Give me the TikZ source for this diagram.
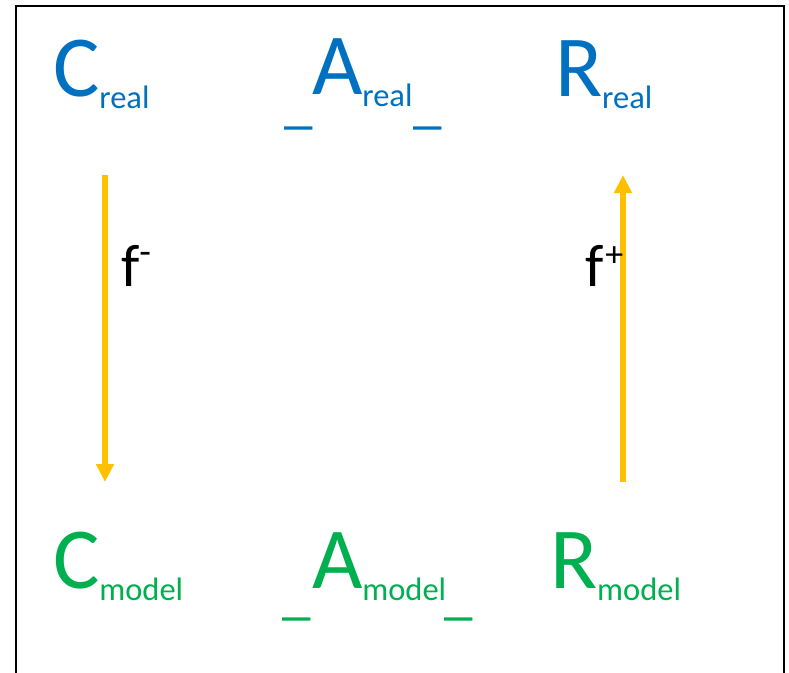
\documentclass[tikz,border=0pt]{standalone}
\usepackage{fontspec}
\setmainfont{Carlito}
\usetikzlibrary{arrows.meta}
\definecolor{realblue}{HTML}{0070C0}
\definecolor{modelgreen}{HTML}{00B050}
\definecolor{mapgold}{HTML}{FFC000}
\newcommand\bigsym[2]{{\fontsize{87}{87}\selectfont #1}\raisebox{-12pt}{\fontsize{32.5}{32.5}\selectfont #2}}
\newcommand\barsym{{\fontsize{57}{57}\selectfont\_}}
\begin{document}
\begin{tikzpicture}[x=1pt,y=-1pt,
  lbl/.style={anchor=base west,inner sep=0pt,outer sep=0pt},
  realtxt/.style={lbl,text=realblue},
  modeltxt/.style={lbl,text=modelgreen},
  maparrow/.style={draw=mapgold,line width=6pt,-{Triangle[width=17pt,length=18pt]}},
  maplabel/.style={lbl,text=black}]
\useasboundingbox (0,0) rectangle (789,672);
\clip (0,0) rectangle (789,672);
\fill[white] (0,0) rectangle (789,672);
% frame (its lower edge lies below the page)
\draw[line width=2.4pt] (16,700) -- (16,6) -- (784,6) -- (784,700);

% real world row
\node[realtxt] (Creal) at (53,96) {\bigsym{C}{real}};
\node[realtxt] (Areal) at (312,94) {\bigsym{A}{real}};
\node[realtxt] (Rreal) at (555,96) {\bigsym{R}{real}};
\node[realtxt] (barRL) at (284,122) {\barsym};
\node[realtxt] (barRR) at (413,122) {\barsym};

% model row
\node[modeltxt] (Cmodel) at (53,588) {\bigsym{C}{model}};
\node[modeltxt] (Amodel) at (312,588) {\bigsym{A}{model}};
\node[modeltxt] (Rmodel) at (550,588) {\bigsym{R}{model}};
\node[modeltxt] (barML) at (282,613) {\barsym};
\node[modeltxt] (barMR) at (444,613) {\barsym};

% mappings between the rows
\coordinate (fmFrom) at (105,175);
\coordinate (fmTo) at (105,482);
\coordinate (fpFrom) at (623,482);
\coordinate (fpTo) at (623,175);
\draw[maparrow] (fmFrom) -- (fmTo);
\draw[maparrow] (fpFrom) -- (fpTo);
\node[maplabel] (fminus) at (121,286) {{\fontsize{60}{60}\selectfont f}\raisebox{22pt}{\fontsize{38}{38}\selectfont -}};
\node[maplabel] (fplus) at (585,286) {{\fontsize{60}{60}\selectfont f}\hspace{2pt}\raisebox{20pt}{\fontsize{36}{36}\selectfont +}};
\end{tikzpicture}
\end{document}
